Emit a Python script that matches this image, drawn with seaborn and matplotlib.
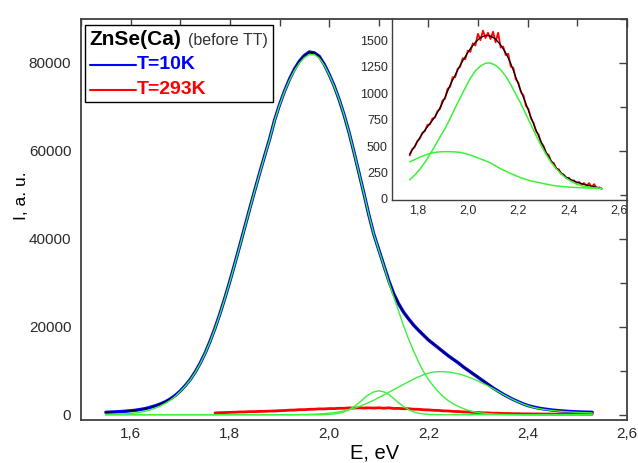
import matplotlib
matplotlib.use("Agg")
import matplotlib.pyplot as plt
import seaborn as sns
from matplotlib.lines import Line2D
from matplotlib.ticker import MultipleLocator, FixedLocator
from matplotlib.offsetbox import AnchoredOffsetbox, TextArea, HPacker, VPacker, DrawingArea

# ---------------- data ----------------
E_main = [1.55, 1.56, 1.57, 1.58, 1.59, 1.60, 1.61, 1.62, 1.63, 1.64,
          1.65, 1.66, 1.67, 1.68, 1.69, 1.70, 1.71, 1.72, 1.73, 1.74,
          1.75, 1.76, 1.77, 1.78, 1.79, 1.80, 1.81, 1.82, 1.83, 1.84,
          1.85, 1.86, 1.87, 1.88, 1.89, 1.90, 1.91, 1.92, 1.93, 1.94,
          1.95, 1.96, 1.97, 1.98, 1.99, 2.00, 2.01, 2.02, 2.03, 2.04,
          2.05, 2.06, 2.07, 2.08, 2.09, 2.10, 2.11, 2.12, 2.13, 2.14,
          2.15, 2.16, 2.17, 2.18, 2.19, 2.20, 2.21, 2.22, 2.23, 2.24,
          2.25, 2.26, 2.27, 2.28, 2.29, 2.30, 2.31, 2.32, 2.33, 2.34,
          2.35, 2.36, 2.37, 2.38, 2.39, 2.40, 2.41, 2.42, 2.43, 2.44,
          2.45, 2.46, 2.47, 2.48, 2.49, 2.50, 2.51, 2.52, 2.53]

I_10K = [550, 600, 650, 720, 800, 900, 1020, 1200, 1400, 1700,
         2050, 2450, 2950, 3600, 4400, 5400, 6600, 8000, 9700, 11700,
         14000, 16700, 19700, 23000, 26600, 30400, 34400, 38500, 42700, 46900,
         51000, 55000, 58900, 62700, 67000, 70500, 73600, 76300, 78600, 80400,
         81700, 82500, 82300, 81500, 79700, 77400, 74800, 71700, 68200, 64200,
         59700, 55000, 50300, 45400, 41000, 37500, 34000, 30500, 27500, 25200,
         23300, 21800, 20400, 19200, 18100, 17000, 16100, 15200, 14300, 13400,
         12600, 11800, 10900, 10100, 9300, 8500, 7700, 6900, 6100, 5400,
         4700, 4100, 3500, 3000, 2500, 2100, 1800, 1550, 1350, 1200,
         1050, 950, 850, 770, 700, 650, 600, 570, 550]

fit1_10K = [50, 70, 100, 140, 200, 280, 400, 560, 800, 1100,
            1500, 2000, 2600, 3300, 4200, 5300, 6500, 7900, 9600, 11600,
            13900, 16600, 19600, 22900, 26500, 30300, 34300, 38400, 42600, 46800,
            50900, 54900, 58800, 62600, 66900, 70400, 73500, 76100, 78300, 80000,
            81200, 81900, 81900, 81100, 79500, 77300, 74700, 71700, 68200, 64200,
            59700, 55000, 50300, 45400, 41000, 37400, 33900, 30200, 26800, 23500,
            20200, 17200, 14500, 12000, 9800, 8000, 6500, 5200, 4100, 3200,
            2500, 1900, 1400, 1000, 700, 500, 350, 250, 170, 110,
            70, 40, 20, 0, 0, 0, 0, 0, 0, 0,
            0, 0, 0, 0, 0, 0, 0, 0, 0]

fit2_10K = [0, 0, 0, 0, 0, 0, 0, 0, 0, 0,
            0, 0, 0, 0, 0, 0, 0, 0, 0, 0,
            0, 0, 0, 0, 0, 0, 0, 0, 0, 0,
            0, 0, 0, 0, 0, 0, 0, 0, 0, 0,
            0, 0, 0, 0, 40, 80, 170, 340, 650, 1150,
            1850, 2700, 3700, 4600, 5200, 5450, 5200, 4600, 3700, 2700,
            1850, 1150, 650, 340, 170, 80, 40, 0, 0, 0,
            0, 0, 0, 0, 0, 0, 0, 0, 0, 0,
            0, 0, 0, 0, 0, 0, 0, 0, 0, 0,
            0, 0, 0, 0, 0, 0, 0, 0, 0]

fit3_10K = [0, 0, 0, 0, 0, 0, 0, 0, 0, 0,
            0, 0, 0, 0, 0, 0, 0, 0, 0, 0,
            0, 0, 0, 0, 0, 0, 0, 0, 0, 0,
            0, 0, 0, 0, 0, 0, 0, 0, 0, 30,
            50, 80, 120, 180, 260, 360, 480, 640, 850, 1150,
            1450, 1850, 2300, 2800, 3300, 3900, 4500, 5100, 5700, 6300,
            6900, 7500, 8100, 8600, 9100, 9450, 9700, 9800, 9800, 9700,
            9550, 9300, 9000, 8600, 8150, 7650, 7100, 6550, 5950, 5300,
            4650, 4050, 3450, 2950, 2450, 2050, 1700, 1450, 1250, 1100,
            950, 850, 750, 670, 600, 540, 490, 450, 420]

E_293 = [1.77, 1.78, 1.79, 1.80, 1.81, 1.82, 1.83, 1.84, 1.85, 1.86,
         1.87, 1.88, 1.89, 1.90, 1.91, 1.92, 1.93, 1.94, 1.95, 1.96,
         1.97, 1.98, 1.99, 2.00, 2.01, 2.02, 2.03, 2.04, 2.05, 2.06,
         2.07, 2.08, 2.09, 2.10, 2.11, 2.12, 2.13, 2.14, 2.15, 2.16,
         2.17, 2.18, 2.19, 2.20, 2.21, 2.22, 2.23, 2.24, 2.25, 2.26,
         2.27, 2.28, 2.29, 2.30, 2.31, 2.32, 2.33, 2.34, 2.35, 2.36,
         2.37, 2.38, 2.39, 2.40, 2.41, 2.42, 2.43, 2.44, 2.45, 2.46,
         2.47, 2.48, 2.49, 2.50, 2.51, 2.52, 2.53]

I_293 = [410, 470, 490, 545, 570, 625, 640, 700, 705, 760,
         770, 830, 850, 930, 950, 1040, 1060, 1150, 1150, 1230,
         1250, 1330, 1320, 1400, 1390, 1470, 1450, 1560, 1500, 1590,
         1520, 1570, 1510, 1580, 1480, 1570, 1430, 1440, 1360, 1370,
         1250, 1240, 1130, 1100, 1010, 980, 880, 850, 760, 720,
         640, 610, 530, 500, 430, 415, 350, 340, 285, 280,
         235, 230, 195, 200, 170, 175, 150, 160, 135, 150,
         125, 150, 110, 140, 100, 110, 95]

E_fit293 = [1.77, 1.79, 1.81, 1.83, 1.85, 1.87, 1.89, 1.91, 1.93, 1.95,
            1.97, 1.99, 2.01, 2.03, 2.05, 2.07, 2.09, 2.11, 2.13, 2.15,
            2.17, 2.19, 2.21, 2.23, 2.25, 2.27, 2.29, 2.31, 2.33, 2.35,
            2.37, 2.39, 2.41, 2.43, 2.45, 2.47, 2.49, 2.51, 2.53]

fitsum_293 = [425, 500, 580, 650, 710, 775, 860, 960, 1075, 1170,
              1265, 1345, 1420, 1480, 1525, 1545, 1540, 1510, 1455, 1380,
              1280, 1150, 1020, 900, 770, 650, 540, 440, 360, 295,
              245, 205, 180, 160, 145, 130, 120, 110, 100]

fit1_293 = [180, 225, 280, 345, 420, 500, 585, 665, 760, 860,
            955, 1050, 1140, 1210, 1255, 1282, 1285, 1262, 1220, 1160,
            1080, 990, 900, 800, 700, 600, 505, 420, 345, 285,
            235, 195, 165, 140, 125, 115, 108, 103, 100]

fit2_293 = [350, 372, 395, 413, 430, 440, 445, 447, 446, 444,
            440, 428, 415, 397, 378, 360, 340, 312, 285, 262,
            240, 220, 200, 185, 170, 160, 150, 140, 130, 124,
            118, 114, 110, 108, 106, 104, 103, 101, 100]

main_xticks = [1.6, 1.8, 2.0, 2.2, 2.4, 2.6]
main_xticklabels = ["1,6", "1,8", "2,0", "2,2", "2,4", "2,6"]
main_yticks = [0, 20000, 40000, 60000, 80000]
main_yticklabels = ["0", "20000", "40000", "60000", "80000"]
ins_xticks = [1.8, 2.0, 2.2, 2.4, 2.6]
ins_xticklabels = ["1,8", "2,0", "2,2", "2,4", "2,6"]
ins_yticks = [0, 250, 500, 750, 1000, 1250, 1500]
ins_yticklabels = ["0", "250", "500", "750", "1000", "1250", "1500"]

legend_title = "ZnSe(Ca)"
legend_subtitle = "(before TT)"
series_labels = ["T=10K", "T=293K"]

# ---------------- style ----------------
sns.set_theme(style="white")
plt.rcParams["font.family"] = ["Liberation Sans", "DejaVu Sans"]

BLUE = "#0000FF"
RED = "#FF0000"
GREEN = "#3CF03C"
SPINE = "#404040"
TXT = "#2a2a2a"

fig = plt.figure(figsize=(6.38, 4.63), dpi=100)
fig.patch.set_facecolor("white")
ax = fig.add_axes([81 / 638, 43 / 463, 546 / 638, 401 / 463])

# main curves
sns.lineplot(x=E_main, y=I_10K, ax=ax, color=BLUE, linewidth=2.4, estimator=None, legend=False)
sns.lineplot(x=E_293, y=I_293, ax=ax, color=RED, linewidth=2.0, estimator=None, legend=False)
sns.lineplot(x=E_main, y=I_10K, ax=ax, color="black", linewidth=0.7, estimator=None, legend=False)
for comp in (fit1_10K, fit2_10K, fit3_10K):
    sns.lineplot(x=E_main, y=comp, ax=ax, color=GREEN, linewidth=1.0, estimator=None, legend=False)

ax.set_xlim(1.5, 2.6)
ax.set_ylim(-1200, 90000)
ax.xaxis.set_major_locator(FixedLocator(main_xticks))
ax.set_xticklabels(main_xticklabels)
ax.yaxis.set_major_locator(FixedLocator(main_yticks))
ax.set_yticklabels(main_yticklabels)
ax.xaxis.set_minor_locator(MultipleLocator(0.1))
ax.yaxis.set_minor_locator(MultipleLocator(10000))
ax.tick_params(which="both", direction="in", top=True, right=True,
               color=SPINE, width=1.0, labelcolor=TXT)
ax.tick_params(which="major", length=6, labelsize=11)
ax.tick_params(axis="y", which="major", pad=7)
ax.tick_params(axis="x", which="major", pad=5)
ax.tick_params(which="minor", length=5)
for s in ax.spines.values():
    s.set_color(SPINE)
    s.set_linewidth(1.3)

ax.set_xlabel("E, eV", fontsize=14.5, color="black")
ax.set_ylabel("I, a. u.", fontsize=12.5, color="black")
ax.xaxis.set_label_coords(0.537, -0.058)
ax.yaxis.set_label_coords(-0.095, 0.56)

# legend box (title + two entries)
title_row = HPacker(children=[
    TextArea(legend_title, textprops=dict(fontsize=15, fontweight="bold", color="black")),
    TextArea(legend_subtitle, textprops=dict(fontsize=11.5, color="#333333")),
], align="baseline", pad=0, sep=5)

rows = [title_row]
for lab, col in zip(series_labels, (BLUE, RED)):
    da = DrawingArea(33, 10, 0, 0)
    da.add_artist(Line2D([0, 33], [4.5, 4.5], color=col, linewidth=1.5))
    txt = TextArea(lab, textprops=dict(fontsize=14, fontweight="bold", color=col))
    rows.append(HPacker(children=[da, txt], align="center", pad=0, sep=1))

vbox = VPacker(children=rows, align="left", pad=0, sep=5.5)
box = AnchoredOffsetbox(loc="upper left", child=vbox, pad=0.3, borderpad=0,
                        frameon=True, bbox_to_anchor=(0.0075, 0.985),
                        bbox_transform=ax.transAxes)
box.patch.set_boxstyle("square", pad=0)
box.patch.set_edgecolor("black")
box.patch.set_linewidth(1.0)
box.set_zorder(6)
ax.add_artist(box)

# inset
axin = fig.add_axes([392 / 638, 263 / 463, 235 / 638, 181 / 463])
axin.patch.set_alpha(0)
sns.lineplot(x=E_293, y=I_293, ax=axin, color=RED, linewidth=1.3, estimator=None, legend=False)
sns.lineplot(x=E_fit293, y=fitsum_293, ax=axin, color="black", linewidth=0.9, estimator=None, legend=False)
for comp in (fit1_293, fit2_293):
    sns.lineplot(x=E_fit293, y=comp, ax=axin, color=GREEN, linewidth=1.1, estimator=None, legend=False)

axin.set_xlim(1.70, 2.63)
axin.set_ylim(-10, 1700)
axin.xaxis.set_major_locator(FixedLocator(ins_xticks))
axin.set_xticklabels(ins_xticklabels)
axin.yaxis.set_major_locator(FixedLocator(ins_yticks))
axin.set_yticklabels(ins_yticklabels)
axin.xaxis.set_minor_locator(MultipleLocator(0.1))
axin.yaxis.set_minor_locator(MultipleLocator(125))
axin.tick_params(which="both", direction="in", color=SPINE, width=1.0, labelcolor=TXT)
axin.tick_params(which="major", length=4, labelsize=9, pad=3)
axin.tick_params(which="minor", length=3)
axin.spines["top"].set_visible(False)
axin.spines["right"].set_visible(False)
for k in ("left", "bottom"):
    axin.spines[k].set_color(SPINE)
    axin.spines[k].set_linewidth(1.0)
axin.set_xlabel("")
axin.set_ylabel("")

fig.savefig("out.png", dpi=100)
